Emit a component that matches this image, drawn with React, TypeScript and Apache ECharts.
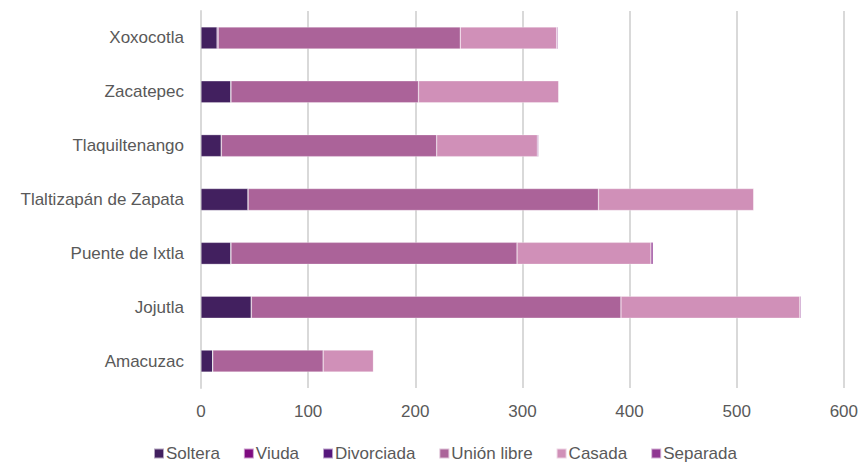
import React, { useEffect, useRef } from "react";
import * as echarts from "echarts";

const categories = ["Amacuzac", "Jojutla", "Puente de Ixtla", "Tlaltizapán de Zapata", "Tlaquiltenango", "Zacatepec", "Xoxocotla"];
const soltera = [11, 47, 28, 44, 19, 28, 15];
const viuda = [0, 0, 0, 0, 0, 0, 1];
const divorciada = [0, 0, 0, 0, 0, 0, 0];
const unionLibre = [103, 345, 267, 327, 201, 175, 226];
const casada = [47, 167, 125, 145, 94, 131, 90];
const separada = [0, 1, 2, 0, 1, 0, 1];
const xTicks = [0, 100, 200, 300, 400, 500, 600];

const seriesDefs = [
  { name: "Soltera", data: soltera, color: "#42205F" },
  { name: "Viuda", data: viuda, color: "#7E0B80" },
  { name: "Divorciada", data: divorciada, color: "#56177C" },
  { name: "Unión libre", data: unionLibre, color: "#AB6399" },
  { name: "Casada", data: casada, color: "#D090B8" },
  { name: "Separada", data: separada, color: "#8F3591" },
];

export default function App() {
  const ref = useRef<HTMLDivElement>(null);
  useEffect(() => {
    document.body.style.margin = "0";
    document.body.style.overflow = "hidden";
    if (!ref.current) return;
    const chart = echarts.init(ref.current, null, { renderer: "svg" });
    const font = "'Liberation Sans Narrow', 'Liberation Sans', sans-serif";
    chart.setOption({
      animation: false,
      textStyle: { fontFamily: font },
      grid: { left: 201, right: 17, top: 11, bottom: 76, containLabel: false },
      legend: {
        bottom: -3,
        left: 148,
        itemWidth: 10,
        itemHeight: 10,
        itemGap: 23,
        icon: "rect",
        textStyle: { color: "#595959", fontSize: 17, fontFamily: font, padding: [0, 0, 0, -3] },
        data: seriesDefs.map((s) => s.name),
      },
      xAxis: {
        type: "value",
        min: xTicks[0],
        max: xTicks[xTicks.length - 1],
        interval: 100,
        axisLine: { show: false },
        axisTick: { show: false },
        axisLabel: { color: "#595959", fontSize: 17, margin: 15, fontFamily: font },
        splitLine: { show: true, lineStyle: { color: "#D9D9D9", width: 2 } },
      },
      yAxis: {
        type: "category",
        data: categories,
        axisLine: { show: true, lineStyle: { color: "#D9D9D9", width: 2 } },
        axisTick: { show: false },
        axisLabel: { color: "#595959", fontSize: 17, margin: 17, fontFamily: font },
      },
      series: seriesDefs.map((s) => ({
        name: s.name,
        type: "bar",
        stack: "total",
        data: s.data,
        barWidth: 22,
        itemStyle: { color: s.color, borderColor: "rgba(255,255,255,0.6)", borderWidth: 0.5 },
      })),
    });
    return () => chart.dispose();
  }, []);
  return <div ref={ref} style={{ width: 861, height: 464 }} />;
}
